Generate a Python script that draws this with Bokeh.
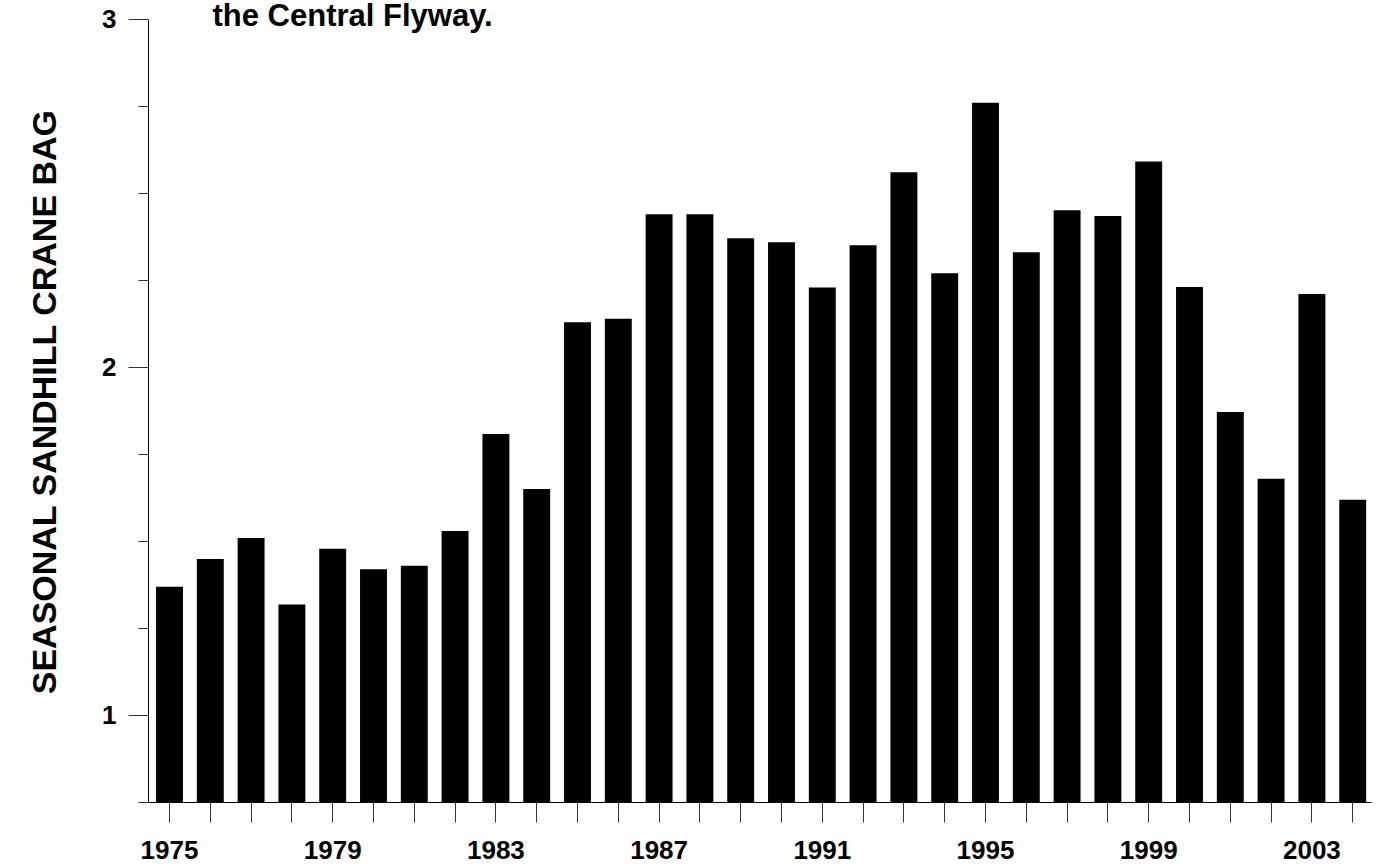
from bokeh.plotting import figure
from bokeh.models import FixedTicker, Range1d, Label
from bokeh.embed import file_html
from bokeh.resources import INLINE

years = list(range(1975, 2005))
bag = [1.370, 1.450, 1.510, 1.319, 1.479, 1.420, 1.430, 1.530, 1.809, 1.651,
       2.130, 2.140, 2.440, 2.440, 2.371, 2.360, 2.230, 2.351, 2.561, 2.271,
       2.761, 2.331, 2.452, 2.435, 2.592, 2.231, 1.872, 1.680, 2.211, 1.620]
x_labels = {1975: "1975", 1979: "1979", 1983: "1983", 1987: "1987", 1991: "1991",
            1995: "1995", 1999: "1999", 2003: "2003"}
y_major = [1, 2, 3]
y_minor = [0.75, 1.25, 1.5, 1.75, 2.25, 2.5, 2.75]
title_text = "the Central Flyway."
y_title = "SEASONAL SANDHILL CRANE BAG"

FONT = "Liberation Sans"
W, H = 1376, 867
PX_PER_YEAR = 40.8
PX_PER_UNIT = 348.5
Y_MIN, Y_MAX = 0.75, 3.0
x_start = 1975 - 21 / PX_PER_YEAR
x_end = 1975 + (1371 - 169) / PX_PER_YEAR
y_top = Y_MAX + 19 / PX_PER_UNIT          # room above the axis for the title

p = figure(width=W, height=H, output_backend="svg", toolbar_location=None,
           x_range=Range1d(x_start, x_end), y_range=Range1d(Y_MIN, y_top),
           min_border_left=148, min_border_right=5, min_border_top=0, min_border_bottom=65)
p.outline_line_color = None
p.xgrid.grid_line_color = None
p.ygrid.grid_line_color = None
p.background_fill_color = "white"
p.border_fill_color = "white"

p.vbar(x=years, top=bag, bottom=Y_MIN, width=0.66, fill_color="black", line_color=None)

xa = p.xaxis[0]
xa.ticker = FixedTicker(ticks=years, minor_ticks=[])
xa.major_label_overrides = {y: x_labels.get(y, "") for y in years}
xa.major_tick_out = 20
xa.major_tick_in = 0
xa.minor_tick_out = 0
xa.major_label_standoff = 18
xa.major_label_text_font = FONT
xa.major_label_text_font_style = "bold"
xa.major_label_text_font_size = "26px"
xa.major_label_text_color = "black"
xa.axis_line_color = "black"
xa.major_tick_line_color = "#333333"

ya = p.yaxis[0]
ya.bounds = (Y_MIN, Y_MAX)
ya.ticker = FixedTicker(ticks=y_major, minor_ticks=y_minor)
ya.major_tick_out = 20
ya.major_tick_in = 0
ya.minor_tick_out = 10
ya.minor_tick_in = 0
ya.major_label_standoff = 12
ya.major_label_text_font = FONT
ya.major_label_text_font_style = "bold"
ya.major_label_text_font_size = "26px"
ya.major_label_text_color = "black"
ya.axis_line_color = "black"
ya.major_tick_line_color = "#333333"
ya.minor_tick_line_color = "#333333"
ya.axis_label = y_title
ya.axis_label_text_font = FONT
ya.axis_label_text_font_style = "bold"
ya.axis_label_text_font_size = "34px"
ya.axis_label_text_color = "black"
ya.axis_label_standoff = 36

p.add_layout(Label(x=x_start + (212 - 148) / PX_PER_YEAR, y=Y_MAX + 3.5 / PX_PER_UNIT,
                   x_units="data", y_units="data",
                   text=title_text, text_font=FONT, text_font_style="bold",
                   text_font_size="31px", text_color="black",
                   text_baseline="alphabetic", text_align="left"))

open("out.html", "w").write(file_html(p, INLINE))
